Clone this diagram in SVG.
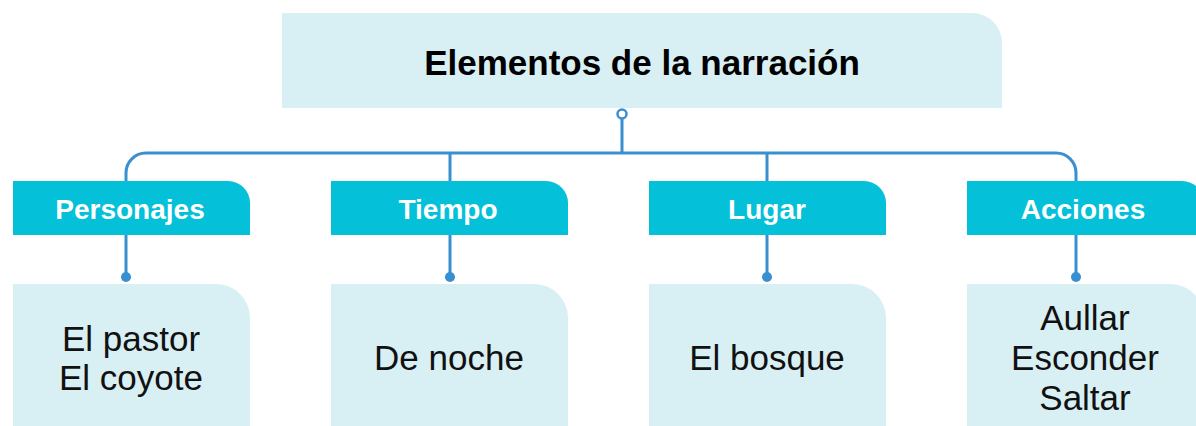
<svg xmlns="http://www.w3.org/2000/svg" width="1196" height="426" viewBox="0 0 1196 426">
<style>
.light{fill:#d8eff4}
.head{fill:#04c0d8}
.ln{fill:none;stroke:#3a8fd0;stroke-width:3}
.dot{fill:#3a8fd0}
.t{font-family:"Liberation Sans",Arial,sans-serif;text-anchor:middle}
.title{font-size:35px;font-weight:bold;fill:#000}
.ht{font-size:28px;font-weight:bold;fill:#fff}
.ct{font-size:35px;fill:#111}
</style>
<rect width="1196" height="426" fill="#fff"/>
<g id="connectors">
<path class="ln" d="M622,118 V153"/>
<path class="ln" d="M126,181 V173 A20,20 0 0 1 146,153 H1056 A20,20 0 0 1 1076,173 V181"/>
<path class="ln" d="M450,153 V181 M767,153 V181"/>
<circle cx="622" cy="114" r="4.5" fill="#fff" stroke="#3a8fd0" stroke-width="2.5"/>
<path class="ln" d="M126,235 V277 M450,235 V277 M767,235 V277 M1076,235 V277"/>
<circle class="dot" cx="126" cy="277" r="5"/>
<circle class="dot" cx="450" cy="277" r="5"/>
<circle class="dot" cx="767" cy="277" r="5"/>
<circle class="dot" cx="1076" cy="277" r="5"/>
</g>
<g id="title">
<path class="light" d="M282,13 H972 A30,30 0 0 1 1002,43 V108 H282 Z"/>
<text class="t title" x="642" y="75">Elementos de la narración</text>
</g>
<g id="personajes">
<path class="head" d="M13,181 H228 A22,22 0 0 1 250,203 V235 H13 Z"/>
<text class="t ht" x="130" y="219">Personajes</text>
</g>
<g id="tiempo">
<path class="head" d="M331,181 H546 A22,22 0 0 1 568,203 V235 H331 Z"/>
<text class="t ht" x="448" y="219">Tiempo</text>
</g>
<g id="lugar">
<path class="head" d="M649,181 H864 A22,22 0 0 1 886,203 V235 H649 Z"/>
<text class="t ht" x="767" y="219">Lugar</text>
</g>
<g id="acciones">
<path class="head" d="M967,181 H1182 A22,22 0 0 1 1204,203 V235 H967 Z"/>
<text class="t ht" x="1083" y="219">Acciones</text>
</g>
<g id="personajes-content">
<path class="light" d="M13,284 H216 A34,34 0 0 1 250,318 V426 H13 Z"/>
<text class="t ct" x="131" y="351">El pastor</text>
<text class="t ct" x="131" y="390">El coyote</text>
</g>
<g id="tiempo-content">
<path class="light" d="M331,284 H534 A34,34 0 0 1 568,318 V426 H331 Z"/>
<text class="t ct" x="449" y="370">De noche</text>
</g>
<g id="lugar-content">
<path class="light" d="M649,284 H852 A34,34 0 0 1 886,318 V426 H649 Z"/>
<text class="t ct" x="767" y="370">El bosque</text>
</g>
<g id="acciones-content">
<path class="light" d="M967,284 H1170 A34,34 0 0 1 1204,318 V426 H967 Z"/>
<text class="t ct" x="1085" y="330">Aullar</text>
<text class="t ct" x="1085" y="370">Esconder</text>
<text class="t ct" x="1085" y="410">Saltar</text>
</g>
</svg>
